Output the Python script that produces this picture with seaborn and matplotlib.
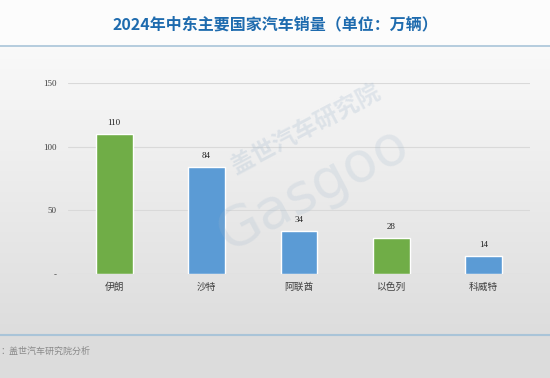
import numpy as np
import pandas as pd
import matplotlib
matplotlib.use("Agg")
import matplotlib.pyplot as plt
import seaborn as sns

countries = ["伊朗", "沙特", "阿联酋", "以色列", "科威特"]
sales = [110, 84, 34, 28, 14]
bar_colors = ["#70AD47", "#5B9BD5", "#5B9BD5", "#70AD47", "#5B9BD5"]
y_ticks = [0, 50, 100, 150]
y_tick_labels = ["-", "50", "100", "150"]
title = "2024年中东主要国家汽车销量（单位：万辆）"
source = "：盖世汽车研究院分析"

sns.set_theme(style="white")
plt.rcParams['font.family'] = ['Noto Sans CJK SC', 'DejaVu Sans']

W, H = 5.5, 3.78
fig = plt.figure(figsize=(W, H), dpi=100)

# background gradient
bg = fig.add_axes([0, 0, 1, 1], zorder=-10)
grad = np.linspace(1.0, 0.0, 256).reshape(-1, 1)
top_c = np.array([0.995, 0.995, 0.995])
bot_c = np.array([0.85, 0.85, 0.85])
img = (grad[..., None] * top_c + (1 - grad[..., None]) * bot_c)
bg.imshow(img, aspect="auto", extent=[0, 1, 0, 1])
bg.set_xlim(0, 1); bg.set_ylim(0, 1)
bg.axis("off")
bg.axhspan(1 - 46 / 378, 1, color="#fcfcfc", zorder=1)
bg.axhline(1 - 46 / 378, color="#a9c4d8", lw=1.2, zorder=2)
bg.axhline(1 - 335 / 378, color="#a9c4d8", lw=1.5, zorder=2)
bg.axhspan(0, 1 - 335 / 378, color="#dcdcdc", zorder=1)

fig.text(0.5, 1 - 24 / 378, title, ha="center", va="center",
         fontsize=11.5, fontweight="bold", color="#1E6BAE")
fig.text(0.0, 1 - 351 / 378, source, ha="left", va="center",
         fontsize=6.5, color="#8a8a8a", style="italic")

# watermark
fig.text(0.555, 0.66, "盖世汽车研究院", fontsize=17, color="#9fb6cc", alpha=0.25,
         rotation=28, ha="center", va="center", fontweight="bold")
fig.text(0.57, 0.5, "Gasgoo", fontsize=40, color="#9fb6cc", alpha=0.2,
         rotation=28, ha="center", va="center", family="DejaVu Sans")

ax = fig.add_axes([68 / 550, 1 - 273.7 / 378, 462 / 550, (273.7 - 83.3) / 378])
ax.patch.set_alpha(0)
df = pd.DataFrame({"country": countries, "sales": sales})
sns.barplot(data=df, x="country", y="sales", hue="country",
            palette=dict(zip(countries, bar_colors)), width=0.4,
            legend=False, ax=ax, zorder=3, saturation=1)
ax.set_ylim(0, 150)
ax.set_xlim(-0.5, len(countries) - 0.5)
ax.set_yticks(y_ticks)
ax.set_yticklabels(y_tick_labels, family="Liberation Serif", fontsize=6.5, color="#404040")
ax.tick_params(axis="y", length=0, pad=8)
ax.tick_params(axis="x", length=0, pad=6)
for lab in ax.get_xticklabels():
    lab.set_fontsize(7)
    lab.set_color("#404040")
ax.set_xlabel("")
ax.set_ylabel("")
ax.grid(axis="y", color="#d9d9d9", lw=0.8, zorder=0)
for s in ax.spines.values():
    s.set_visible(False)

for c in ax.containers:
    ax.bar_label(c, padding=5, fontsize=6.5, family="Liberation Serif",
                 color="#222222")

fig.savefig("out.png", dpi=100)
